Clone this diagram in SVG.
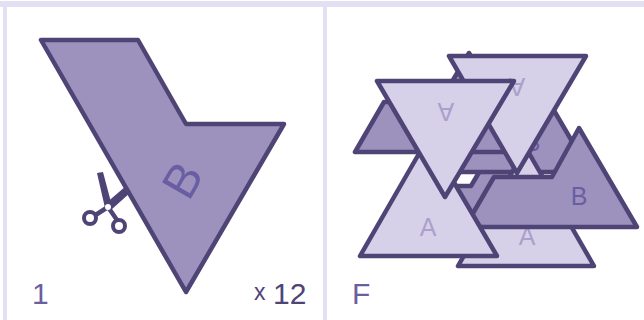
<svg xmlns="http://www.w3.org/2000/svg" width="644" height="320" viewBox="0 0 644 320">
<style>
.f{fill:#e3e0f1}
.d{fill:#9c92bd;stroke:#4f4476;stroke-width:4.5;stroke-linejoin:round}
.l{fill:#d6d1e8;stroke:#4f4476;stroke-width:4.5;stroke-linejoin:round}
text{font-family:"Liberation Sans",Arial,sans-serif}
.tb{fill:#6a5ea3;font-size:25px;text-anchor:middle}
.ta{fill:#a9a1cb;font-size:25px;text-anchor:middle}
.cap{fill:#6b5fa0;font-size:30px}
.cnt{fill:#4f4476;font-size:30px}
</style>
<rect width="644" height="320" fill="#fff"/>
<g id="frame">
<rect class="f" x="0" y="1" width="644" height="6"/>
<rect class="f" x="3" y="1" width="4" height="319"/>
<rect class="f" x="323" y="1" width="4" height="319"/>
</g>
<g id="piece">
<polygon class="d" points="41,40 138,40 186,124 284,124 186,292"/>
<text class="tb" style="font-size:48px" transform="translate(182,180) rotate(-60)" y="17">B</text>
</g>
<g id="scissors" fill="#4f4476" stroke="none">
<path d="M97 173L103 172L112 206L105 208Z"/>
<path d="M126 186L131 192L111 210L105 204Z"/>
<path d="M108 207L94 216M108 207L117 220" stroke="#4f4476" stroke-width="4.5" fill="none"/>
<circle cx="90" cy="218" r="6" fill="#fff" stroke="#4f4476" stroke-width="4"/>
<circle cx="119" cy="226" r="6" fill="#fff" stroke="#4f4476" stroke-width="4"/>
<circle cx="108" cy="207" r="3" fill="#fff"/>
</g>
<g id="label-1"><text class="cap" x="32" y="304">1</text></g>
<g id="count">
<text class="cnt" x="254" y="300" style="font-size:23px">x</text>
<text class="cnt" x="273" y="304">12</text>
</g>
<g id="label-F"><text class="cap" x="352" y="304">F</text></g>
<g id="stack">
<polygon class="d" points="558,236 500,137 471,186 415,186 386,236"/>
<g id="b-mid"><polygon class="d" points="590,172 532,73 503,122 447,122 418,172"/><text class="tb" x="532" y="151">B</text></g>
<g id="a-back"><polygon class="l" points="458,266 594,266 526,148"/><text class="ta" x="527" y="245">A</text></g>
<polygon class="d" points="527,152 469,53 440,102 384,102 355,152"/>
<g id="a-top"><polygon class="l" points="449,56 586,56 517,173"/><text class="ta" transform="translate(517,78) rotate(180)">A</text></g>
<g id="b-front"><polygon class="d" points="637,227 579,128 552,177 494,177 465,227"/><text class="tb" x="579" y="205">B</text></g>
<g id="a-front"><polygon class="l" points="360,256 497,256 428,138"/><text class="ta" x="428" y="236">A</text></g>
<g id="a-inv"><polygon class="l" points="377,81 514,81 445,197"/><text class="ta" transform="translate(446,103) rotate(180)">A</text></g>
</g>
</svg>
